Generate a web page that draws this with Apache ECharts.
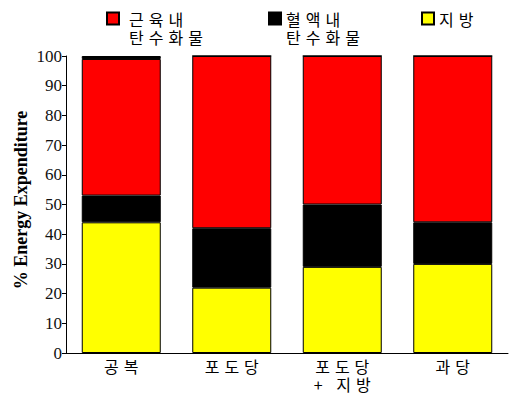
<!DOCTYPE html>
<html>
<head>
<meta charset="utf-8">
<script src="https://cdn.jsdelivr.net/npm/echarts@6/dist/echarts.min.js"></script>
<style>html,body{margin:0;padding:0;background:#fff}#c{width:514px;height:394px}</style>
</head>
<body>
<div id="c"></div>
<script>
const categories = ['공복', '포도당', '포도당\n+ 지방', '과당'];
const fatValues = [44, 22, 29, 30];
const bloodCarbValues = [9, 20, 21, 14];
const muscleCarbValues = [46, 58, 50, 56];
const topBandValues = [1, 0, 0, 0];
const yTicks = [0, 10, 20, 30, 40, 50, 60, 70, 80, 90, 100];

const nameMuscle = '근육내\n탄수화물';
const nameBlood = '혈액내\n탄수화물';
const nameFat = '지방';

const korFont = '"Noto Sans CJK KR", sans-serif';
const hangulSpacing = 5;
const chart = echarts.init(document.getElementById('c'), null, { renderer: 'svg' });
const legendText = { fontFamily: korFont, fontSize: 16, color: '#000', lineHeight: 18 };
function twoLineLegend(left, name, padLeft) {
  return {
    left: left, top: -8.5, padding: 0, itemWidth: 12, itemHeight: 12, icon: 'rect', selectedMode: false,
    data: [name], formatter: n => '\n' + n,
    textStyle: Object.assign({}, legendText, { padding: [0, 0, 0, padLeft] })
  };
}
chart.setOption({
  animation: false,
  backgroundColor: '#fff',
  legend: [
    twoLineLegend(106, nameMuscle, 5),
    twoLineLegend(268, nameBlood, 0),
    { left: 421, top: 9.5, padding: 0, itemWidth: 12, itemHeight: 12, icon: 'rect', selectedMode: false,
      data: [nameFat], textStyle: legendText }
  ],
  grid: { left: 66, right: 6, top: 56, bottom: 41, outerBoundsMode: 'none', containLabel: false },
  xAxis: [
    {
      type: 'category', data: categories, position: 'bottom',
      axisLine: { lineStyle: { color: '#000', width: 1 } },
      axisTick: { length: 3, lineStyle: { color: '#000' } },
      axisLabel: { fontFamily: korFont, fontSize: 16, color: '#000', margin: 4, lineHeight: 18 }
    },
    {
      type: 'category', data: categories, position: 'bottom',
      axisLine: { show: false },
      axisTick: { alignWithLabel: true, length: 6, lineStyle: { color: '#000' } },
      axisLabel: { show: false }
    }
  ],
  yAxis: {
    type: 'value', min: 0, max: 100, interval: 10,
    name: '% Energy Expenditure', nameLocation: 'middle', nameGap: 36, nameRotate: 90,
    nameMoveOverlap: false,
    nameTextStyle: { fontFamily: '"Liberation Serif", serif', fontWeight: 'bold', fontSize: 18, color: '#000',
      padding: [0, 0, 0, 9] },
    axisLine: { show: true, lineStyle: { color: '#000' } },
    axisTick: { show: true, length: 4, lineStyle: { color: '#000' } },
    splitLine: { show: false },
    axisLabel: { fontFamily: '"Liberation Serif", serif', fontSize: 17, color: '#111', margin: 4,
      formatter: v => yTicks.includes(v) ? String(v) : '' }
  },
  series: [
    { name: nameFat, type: 'bar', stack: 's', data: fatValues, barWidth: 79,
      itemStyle: { color: '#ffff00', borderColor: '#000', borderWidth: 1 } },
    { name: nameBlood, type: 'bar', stack: 's', data: bloodCarbValues, barWidth: 79,
      itemStyle: { color: '#000000', borderColor: '#000', borderWidth: 1 } },
    { name: nameMuscle, type: 'bar', stack: 's', data: muscleCarbValues, barWidth: 79,
      itemStyle: { color: '#ff0000', borderColor: '#000', borderWidth: 1 } },
    { name: 'top', type: 'bar', stack: 's', data: topBandValues, barWidth: 79,
      itemStyle: { color: '#000000', borderColor: '#000', borderWidth: 1 } }
  ]
});

// Emulate the wide letter spacing of the original Korean font.
function spaceHangul() {
  document.querySelectorAll('#c text').forEach(t => {
    if (/[\uac00-\ud7a3]/.test(t.textContent) && !t.dataset.sp) {
      t.dataset.sp = '1';
      t.setAttribute('letter-spacing', hangulSpacing);
      if (t.getAttribute('text-anchor') === 'middle') {
        t.setAttribute('dx', hangulSpacing / 2);
      }
    }
  });
}
spaceHangul();
chart.on('finished', spaceHangul);
</script>
</body>
</html>
